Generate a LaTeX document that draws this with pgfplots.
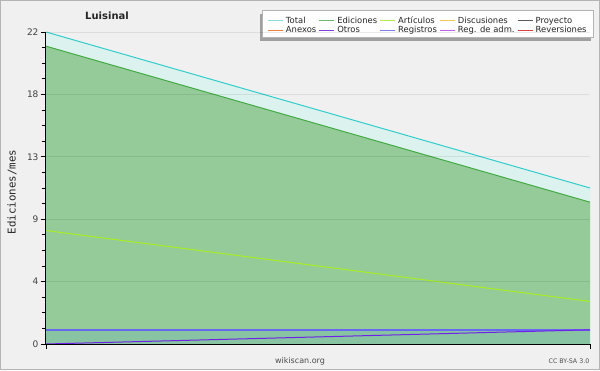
\documentclass[border=0pt]{standalone}
\usepackage{pgfplots}
\pgfplotsset{compat=1.18}
\usepackage{fontspec}
\setmainfont{DejaVu Sans}
\newfontfamily\monofont{DejaVu Sans Mono}
\definecolor{bgc}{RGB}{240,240,240}
\definecolor{brd}{RGB}{180,180,180}
\definecolor{shd}{RGB}{160,160,160}
\definecolor{totfill}{RGB}{220,242,238}
\definecolor{totline}{RGB}{51,204,204}
\definecolor{edfill}{RGB}{148,203,152}
\definecolor{edline}{RGB}{68,170,68}
\definecolor{artline}{RGB}{170,238,34}
\definecolor{regfill}{RGB}{136,195,162}
\definecolor{registroscol}{RGB}{104,104,240}
\definecolor{otrline}{RGB}{112,32,232}
\definecolor{lgTotal}{RGB}{140,220,220}
\definecolor{lgEd}{RGB}{110,185,110}
\definecolor{lgArt}{RGB}{180,236,70}
\definecolor{lgDis}{RGB}{238,200,80}
\definecolor{lgPro}{RGB}{90,90,90}
\definecolor{lgAne}{RGB}{240,128,64}
\definecolor{lgOtr}{RGB}{128,64,224}
\definecolor{lgReg}{RGB}{128,128,240}
\definecolor{lgAdm}{RGB}{192,96,240}
\definecolor{lgRev}{RGB}{224,64,64}
\begin{document}
\begin{tikzpicture}[x=1pt,y=1pt]
\useasboundingbox (0,0) rectangle (600,370);
\fill[bgc] (0,0) rectangle (600,370);
\draw[brd,line width=1pt] (0.5,0.5) rectangle (599.5,369.5);
\node[font=\fontsize{10}{12}\selectfont\bfseries,text=black!85] at (107,354) {Luisinal};
\node[rotate=90,font=\monofont\fontsize{10.8}{12}\selectfont,text=black!85] at (12,178) {Ediciones/mes};
\node[font=\fontsize{8}{10}\selectfont,text=black!70] at (300,9) {wikiscan.org};
\node[font=\fontsize{6.3}{8}\selectfont,text=black!70] at (569,9) {CC BY-SA 3.0};
\begin{axis}[
  at={(46pt,26pt)}, anchor=south west,
  scale only axis, width=544pt, height=312pt,
  xmin=0, xmax=1, ymin=0, ymax=22,
  xtick={0,1}, xticklabels={},
  ytick={0,4.4,8.8,13.2,17.6,22},
  yticklabels={0,4,9,13,18,22},
  minor y tick num=3,
  tick align=outside,
  major tick length=5pt, minor tick length=4pt,
  tick style={black, line width=0.8pt},
  axis x line*=bottom, axis y line*=left,
  axis line style={black, line width=1pt},
  ymajorgrids, grid style={black, opacity=0.08, line width=0.8pt},
  axis on top,
  /pgf/number format/assume math mode=true,
  yticklabel style={font=\fontsize{9}{10}\selectfont, text=black!75, xshift=1pt},
  clip=false,
  legend columns=5,
  legend cell align=left,
  legend style={at={(0.4062,1.0529)}, anchor=north west,
    fill=none, draw=none,
    font=\fontsize{8.4}{9.5}\selectfont, text=black!85,
    inner xsep=0pt, inner ysep=0pt,
    row sep=-0.2pt,
    /tikz/every odd column/.append style={column sep=2.5pt},
    /tikz/every even column/.append style={column sep=2.2pt},
    nodes={inner xsep=0pt, inner ysep=0.9pt}},
  legend image code/.code={\draw[#1, line width=1.3pt] (0pt,0pt) -- (15pt,0pt);},
]
\addlegendimage{color=lgTotal}\addlegendentry{Total}
\addlegendimage{color=lgEd}\addlegendentry{Ediciones}
\addlegendimage{color=lgArt}\addlegendentry{Artículos}
\addlegendimage{color=lgDis}\addlegendentry{Discusiones}
\addlegendimage{color=lgPro}\addlegendentry{Proyecto}
\addlegendimage{color=lgAne}\addlegendentry{Anexos}
\addlegendimage{color=lgOtr}\addlegendentry{Otros}
\addlegendimage{color=lgReg}\addlegendentry{Registros}
\addlegendimage{color=lgAdm}\addlegendentry{Reg. de adm.}
\addlegendimage{color=lgRev}\addlegendentry{Reversiones}
% areas
\addplot[fill=totfill, draw=none, forget plot] coordinates {(0,22) (1,11)} \closedcycle;
\addplot[fill=edfill, draw=none, forget plot] coordinates {(0,21) (1,10)} \closedcycle;
\addplot[fill=regfill, draw=none, forget plot] coordinates {(0,1) (1,1)} \closedcycle;
% lines
\addplot[color=totline, line width=1pt, forget plot] coordinates {(0,22) (1,11)};
\addplot[color=edline, line width=1pt, forget plot] coordinates {(0,21) (1,10)};
\addplot[color=artline, line width=1pt, forget plot] coordinates {(0,8) (1,3)};
\addplot[color=registroscol, line width=1.4pt, forget plot] coordinates {(0,1) (1,1)};
\addplot[color=otrline, line width=1pt, forget plot] coordinates {(0,0) (1,1)};
% legend shadow and box
\fill[shd] (axis description cs:0.3925,0.9712) rectangle (axis description cs:1.0018,1.0577);
\draw[brd, fill=white, line width=0.8pt] (axis description cs:0.3971,0.9840) rectangle (axis description cs:1.0055,1.0705);
\end{axis}
\end{tikzpicture}
\end{document}
